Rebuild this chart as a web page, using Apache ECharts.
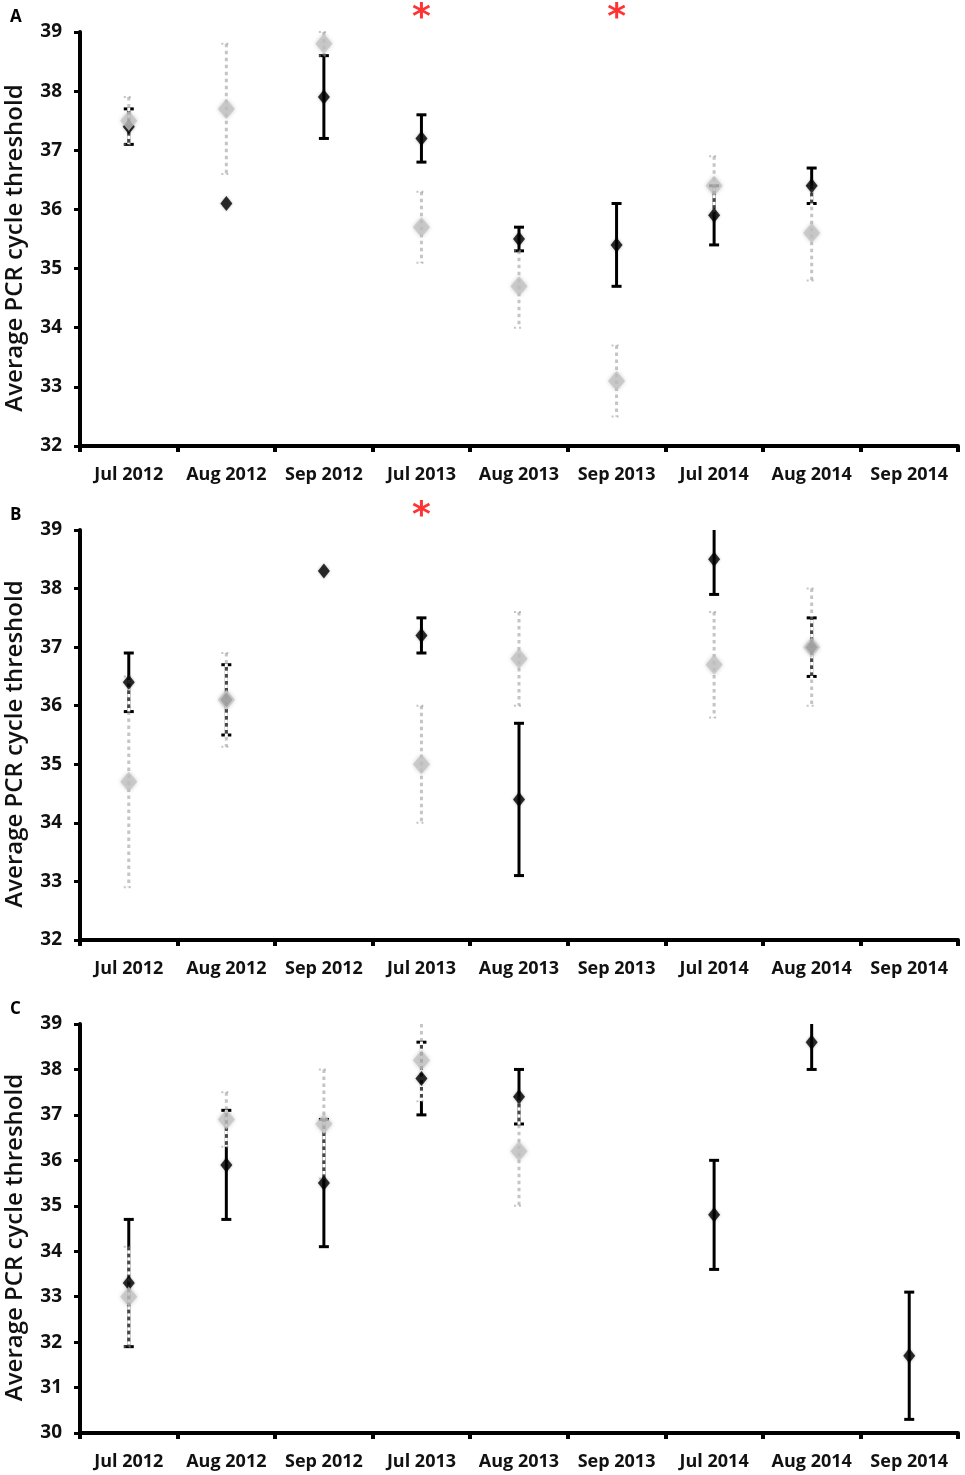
<!DOCTYPE html>
<html>
<head>
<meta charset="utf-8">
<script src="https://cdn.jsdelivr.net/npm/echarts@6/dist/echarts.min.js"></script>
<style>
  html, body { margin: 0; padding: 0; background: #fff; }
  #chart { width: 965px; height: 1475px; }
</style>
</head>
<body>
<div id="chart"></div>
<script>
// Categorías (meses de muestreo)
const categories = ['Jul 2012', 'Aug 2012', 'Sep 2012', 'Jul 2013', 'Aug 2013', 'Sep 2013', 'Jul 2014', 'Aug 2014', 'Sep 2014'];

// Panel A
const aBlackMean = [37.4, 36.1, 37.9, 37.2, 35.5, 35.4, 35.9, 36.4, null];
const aBlackLow  = [37.1, null, 37.2, 36.8, 35.3, 34.7, 35.4, 36.1, null];
const aBlackHigh = [37.7, null, 38.6, 37.6, 35.7, 36.1, 36.4, 36.7, null];
const aGrayMean  = [37.5, 37.7, 38.8, 35.7, 34.7, 33.1, 36.4, 35.6, null];
const aGrayLow   = [37.1, 36.6, 38.6, 35.1, 34.0, 32.5, 35.9, 34.8, null];
const aGrayHigh  = [37.9, 38.8, 39.0, 36.3, 35.3, 33.7, 36.9, 36.4, null];
const aStars = ['Jul 2013', 'Sep 2013'];

// Panel B
const bBlackMean = [36.4, 36.1, 38.3, 37.2, 34.4, null, 38.5, 37.0, null];
const bBlackLow  = [35.9, 35.5, null, 36.9, 33.1, null, 37.9, 36.5, null];
const bBlackHigh = [36.9, 36.7, null, 37.5, 35.7, null, 39.1, 37.5, null];
const bGrayMean  = [34.7, 36.1, null, 35.0, 36.8, null, 36.7, 37.0, null];
const bGrayLow   = [32.9, 35.3, null, 34.0, 36.0, null, 35.8, 36.0, null];
const bGrayHigh  = [36.5, 36.9, null, 36.0, 37.6, null, 37.6, 38.0, null];
const bStars = ['Jul 2013'];

// Panel C
const cBlackMean = [33.3, 35.9, 35.5, 37.8, 37.4, null, 34.8, 38.6, 31.7];
const cBlackLow  = [31.9, 34.7, 34.1, 37.0, 36.8, null, 33.6, 38.0, 30.3];
const cBlackHigh = [34.7, 37.1, 36.9, 38.6, 38.0, null, 36.0, 39.2, 33.1];
const cGrayMean  = [33.0, 36.9, 36.8, 38.2, 36.2, null, null, null, null];
const cGrayLow   = [31.9, 36.3, 35.6, 37.3, 35.0, null, null, null, null];
const cGrayHigh  = [34.1, 37.5, 38.0, 39.1, 37.4, null, null, null, null];
const cStars = [];

const yRanges = [[32, 39], [32, 39], [30, 39]];
const gridTops = [32, 530, 1024];
const gridHeights = [414, 410, 409];
const panelLetters = ['A', 'B', 'C'];

const FONT = '"Open Sans", "Liberation Sans", sans-serif';

function errData(lo, hi) {
    const out = [];
    lo.forEach((v, i) => { if (v != null && hi[i] != null) out.push([i, v, hi[i]]); });
    return out;
}
function meanData(m) {
    const out = [];
    m.forEach((v, i) => { if (v != null) out.push([i, v]); });
    return out;
}

function blackErr(yMax) {
    return function (params, api) {
        const x = api.value(0), lo = api.value(1), hi = api.value(2);
        const top = api.coord([x, Math.min(hi, yMax)]);
        const bot = api.coord([x, lo]);
        const st = { stroke: '#000', lineWidth: 3 };
        const kids = [
            { type: 'line', shape: { x1: top[0], y1: top[1], x2: bot[0], y2: bot[1] }, style: st },
            { type: 'line', shape: { x1: bot[0] - 5, y1: bot[1], x2: bot[0] + 5, y2: bot[1] }, style: st }
        ];
        if (hi <= yMax) kids.push({ type: 'line', shape: { x1: top[0] - 5, y1: top[1], x2: top[0] + 5, y2: top[1] }, style: st });
        return { type: 'group', children: kids };
    };
}

function grayErr(yMax) {
    return function (params, api) {
        const x = api.value(0), lo = api.value(1), hi = api.value(2);
        const top = api.coord([x, Math.min(hi, yMax)]);
        const bot = api.coord([x, lo]);
        const shape = { x1: top[0], y1: top[1], x2: bot[0], y2: bot[1] };
        const kids = [
            { type: 'line', shape: shape, style: { stroke: '#fff', lineWidth: 3, lineDash: [3.5, 3.5], lineDashOffset: 3.5 } },
            { type: 'line', shape: shape, style: { stroke: 'rgba(140,140,140,0.5)', lineWidth: 3, lineDash: [3.5, 3.5] } }
        ];
        const capSt = { stroke: 'rgba(150,150,150,0.55)', lineWidth: 2, lineDash: [2, 3] };
        kids.push({ type: 'line', shape: { x1: bot[0] - 5, y1: bot[1], x2: bot[0] + 5, y2: bot[1] }, style: capSt });
        if (hi <= yMax) kids.push({ type: 'line', shape: { x1: top[0] - 5, y1: top[1], x2: top[0] + 5, y2: top[1] }, style: capSt });
        return { type: 'group', children: kids };
    };
}

const panels = [
    [aBlackMean, aBlackLow, aBlackHigh, aGrayMean, aGrayLow, aGrayHigh, aStars],
    [bBlackMean, bBlackLow, bBlackHigh, bGrayMean, bGrayLow, bGrayHigh, bStars],
    [cBlackMean, cBlackLow, cBlackHigh, cGrayMean, cGrayLow, cGrayHigh, cStars]
];

const grids = [], xAxes = [], yAxes = [], series = [], titles = [];

panels.forEach((p, k) => {
    const [bm, bl, bh, gm, gl, gh, stars] = p;
    const yMax = yRanges[k][1];
    grids.push({ left: 80, right: 7, top: gridTops[k], height: gridHeights[k], outerBoundsMode: 'none', containLabel: false });
    xAxes.push({
        gridIndex: k, type: 'category', data: categories,
        axisLine: { lineStyle: { color: '#000', width: 4 } },
        axisTick: { show: true, interval: 0, length: 6, lineStyle: { color: '#000', width: 4 } },
        axisLabel: { interval: 0, margin: 20, color: '#111', fontFamily: FONT, fontWeight: 'bold', fontSize: 18 },
        splitLine: { show: false }
    });
    yAxes.push({
        gridIndex: k, type: 'value', min: yRanges[k][0], max: yMax, interval: 1,
        name: 'Average PCR cycle threshold', nameLocation: 'middle', nameGap: 53,
        nameTextStyle: { color: '#111', fontFamily: FONT, fontWeight: 600, fontSize: 24, padding: [0, 18, 0, 0] },
        axisLine: { show: true, lineStyle: { color: '#000', width: 4 } },
        axisTick: { show: true, length: 6, lineStyle: { color: '#000', width: 3 } },
        axisLabel: { margin: 18, color: '#111', fontFamily: FONT, fontWeight: 'bold', fontSize: 19 },
        splitLine: { show: false }
    });
    titles.push({ text: panelLetters[k], left: 5, top: gridTops[k] - 28, textStyle: { fontFamily: FONT, fontWeight: 'bold', fontSize: 17, color: '#000' } });

    series.push({
        type: 'custom', xAxisIndex: k, yAxisIndex: k, z: 2,
        renderItem: blackErr(yMax), encode: { x: 0, y: [1, 2] }, data: errData(bl, bh)
    });
    series.push({
        type: 'custom', xAxisIndex: k, yAxisIndex: k, z: 3,
        renderItem: grayErr(yMax), encode: { x: 0, y: [1, 2] }, data: errData(gl, gh)
    });
    series.push({
        type: 'scatter', xAxisIndex: k, yAxisIndex: k, z: 4, symbol: 'diamond', symbolSize: [12, 15],
        itemStyle: { color: '#000', shadowBlur: 3, shadowColor: 'rgba(0,0,0,0.35)' },
        data: meanData(bm)
    });
    series.push({
        type: 'scatter', xAxisIndex: k, yAxisIndex: k, z: 5, symbol: 'diamond', symbolSize: [17, 20],
        itemStyle: { color: '#c4c4c4', shadowBlur: 4, shadowColor: 'rgba(0,0,0,0.25)' },
        data: meanData(gm)
    });
    if (stars.length) {
        series.push({
            type: 'scatter', xAxisIndex: k, yAxisIndex: k, z: 6, clip: false, symbolSize: 0,
            label: { show: true, formatter: '*', color: '#f00', fontFamily: '"DejaVu Sans", sans-serif', fontWeight: 'bold', fontSize: 36, position: 'inside' },
            data: stars.map(s => [categories.indexOf(s), yMax + 0.22])
        });
    }
});

const chart = echarts.init(document.getElementById('chart'));
chart.setOption({
    animation: false,
    backgroundColor: '#fff',
    title: titles,
    grid: grids,
    xAxis: xAxes,
    yAxis: yAxes,
    series: series
});
</script>
</body>
</html>
